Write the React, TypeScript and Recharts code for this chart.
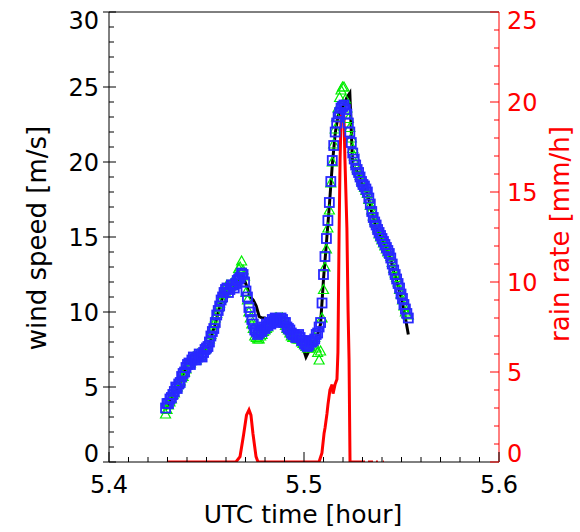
import { ComposedChart, Line, Scatter, XAxis, YAxis, Label } from 'recharts';

// sample times (UTC hour) of the square / triangle records
const markerTimes = [
  5.429, 5.42975, 5.4305, 5.43125, 5.432, 5.43275, 5.4335, 5.43425, 5.435, 5.43575,
  5.4365, 5.43725, 5.438, 5.43875, 5.4395, 5.44025, 5.441, 5.44175, 5.4425, 5.44325,
  5.444, 5.44475, 5.4455, 5.44625, 5.447, 5.44775, 5.4485, 5.44925, 5.45, 5.45075,
  5.4515, 5.45225, 5.453, 5.45375, 5.4545, 5.45525, 5.456, 5.45675, 5.4575, 5.45825,
  5.459, 5.45975, 5.4605, 5.46125, 5.462, 5.46275, 5.4635, 5.46425, 5.465, 5.46575,
  5.4665, 5.46725, 5.468, 5.46875, 5.4695, 5.47025, 5.471, 5.47175, 5.4725, 5.47325,
  5.474, 5.47475, 5.4755, 5.47625, 5.477, 5.47775, 5.4785, 5.47925, 5.48, 5.48075,
  5.4815, 5.48225, 5.483, 5.48375, 5.4845, 5.48525, 5.486, 5.48675, 5.4875, 5.48825,
  5.489, 5.48975, 5.4905, 5.49125, 5.492, 5.49275, 5.4935, 5.49425, 5.495, 5.49575,
  5.4965, 5.49725, 5.498, 5.49875, 5.4995, 5.50025, 5.501, 5.50175, 5.5025, 5.50325,
  5.504, 5.50475, 5.5055, 5.50625, 5.507, 5.50775, 5.5085, 5.50925, 5.51, 5.51075,
  5.5115, 5.51225, 5.513, 5.51375, 5.5145, 5.51525, 5.516, 5.51675, 5.5175, 5.51825,
  5.519, 5.51975, 5.5205, 5.52125, 5.522, 5.52275, 5.5235, 5.52425, 5.525, 5.52575,
  5.5265, 5.52725, 5.528, 5.52875, 5.5295, 5.53025, 5.531, 5.53175, 5.5325, 5.53325,
  5.534, 5.53475, 5.5355, 5.53625, 5.537, 5.53775, 5.5385, 5.53925, 5.54, 5.54075,
  5.5415, 5.54225, 5.543, 5.54375, 5.5445, 5.54525, 5.546, 5.54675, 5.5475, 5.54825,
  5.549, 5.54975, 5.5505, 5.55125, 5.552, 5.55275, 5.5535,
];

// blue squares
const blueSpeed = [
  3.6, 3.9, 3.9, 4.2, 4.3, 4.5, 4.7, 5.0, 4.9, 5.2,
  5.3, 5.7, 5.9, 6.0, 6.3, 6.5, 6.6, 6.5, 6.8, 7.0,
  6.9, 6.8, 7.0, 7.2, 7.1, 7.0, 7.3, 7.5, 7.6, 7.7,
  8.0, 8.4, 8.7, 8.9, 9.3, 9.8, 10.1, 10.4, 10.8, 11.0,
  11.3, 11.5, 11.6, 11.3, 11.5, 11.8, 11.8, 11.6, 11.9, 12.1,
  12.2, 12.3, 12.6, 12.5, 12.0, 11.4, 11.0, 10.3, 10.0, 9.5,
  9.2, 8.8, 8.7, 8.5, 8.6, 8.8, 8.7, 9.0, 8.9, 9.2,
  9.1, 9.3, 9.2, 9.5, 9.4, 9.6, 9.5, 9.3, 9.4, 9.6,
  9.5, 9.3, 9.3, 9.0, 8.9, 8.8, 8.6, 8.5, 8.5, 8.3,
  8.4, 8.5, 8.3, 8.1, 8.1, 7.9, 7.8, 7.7, 7.8, 8.0,
  8.0, 8.1, 8.2, 8.5, 8.6, 9.0, 9.3, 10.6, 12.5, 13.7,
  14.9, 16.1, 17.3, 18.7, 20.1, 21.1, 22.0, 22.6, 23.0, 23.3,
  23.6, 23.7, 23.8, 23.5, 23.2, 22.6, 22.0, 21.3, 20.6, 20.2,
  19.8, 19.5, 19.3, 19.0, 18.7, 18.5, 18.4, 18.2, 18.0, 17.6,
  17.2, 16.7, 16.3, 16.0, 15.8, 15.5, 15.3, 15.1, 14.9, 14.7,
  14.5, 14.3, 14.1, 13.9, 13.6, 13.2, 12.8, 12.5, 12.2, 11.9,
  11.6, 11.2, 10.9, 10.5, 10.2, 9.9, 9.6,
];

// green triangles
const greenSpeed = [
  3.2, 3.5, 3.8, 4.0, 4.2, 4.5, 4.6, 4.9, 5.0, 5.2,
  5.4, 5.6, 5.7, 6.0, 6.2, 6.5, 6.7, 6.6, 6.9, 7.0,
  7.0, 6.8, 7.2, 7.0, 7.1, 7.3, 7.5, 7.5, 7.8, 8.0,
  8.2, 8.5, 8.9, 9.2, 9.6, 9.9, 10.3, 10.6, 10.9, 11.2,
  11.5, 11.3, 11.8, 11.6, 11.7, 11.9, 12.0, 12.1, 12.3, 12.4,
  12.9, 13.0, 13.4, 12.8, 12.4, 11.3, 10.8, 10.0, 9.6, 9.2,
  8.9, 8.4, 8.3, 8.2, 8.2, 8.4, 8.5, 8.7, 8.8, 8.9,
  9.0, 9.2, 9.3, 9.4, 9.5, 9.6, 9.6, 9.5, 9.5, 9.6,
  9.6, 9.3, 9.1, 8.9, 8.8, 8.6, 8.4, 8.3, 8.3, 8.3,
  8.2, 8.2, 8.2, 8.0, 7.9, 7.8, 7.7, 7.6, 7.6, 7.7,
  7.8, 8.0, 8.3, 7.6, 7.3, 6.8, 7.4, 9.6, 11.5, 13.0,
  14.2, 15.6, 16.8, 18.6, 20.0, 21.2, 22.2, 23.0, 23.6, 24.3,
  24.8, 25.0, 25.0, 24.2, 23.6, 22.9, 22.3, 21.6, 20.9, 20.4,
  19.9, 19.6, 19.4, 19.1, 18.8, 18.6, 18.3, 18.1, 17.9, 17.5,
  17.1, 16.8, 16.4, 16.1, 15.9, 15.6, 15.2, 15.0, 14.8, 14.6,
  14.4, 14.2, 14.0, 13.9, 13.7, 13.3, 12.9, 12.6, 12.3, 12.0,
  11.5, 11.2, 10.8, 10.4, 10.0, 9.9, 9.8,
];

// sample times of the black line
const lineTimes = [
  5.429, 5.4305, 5.432, 5.4335, 5.435, 5.4365, 5.438, 5.4395, 5.441, 5.4425,
  5.444, 5.4455, 5.447, 5.4485, 5.45, 5.4515, 5.453, 5.4545, 5.456, 5.4575,
  5.459, 5.4605, 5.462, 5.4635, 5.465, 5.4665, 5.468, 5.4695, 5.471, 5.4725,
  5.474, 5.4755, 5.477, 5.4785, 5.48, 5.4815, 5.483, 5.4845, 5.486, 5.4875,
  5.489, 5.4905, 5.492, 5.4935, 5.495, 5.4965, 5.498, 5.4995, 5.501, 5.5025,
  5.504, 5.5055, 5.507, 5.5085, 5.51, 5.5115, 5.513, 5.5145, 5.516, 5.5175,
  5.519, 5.5205, 5.522, 5.5235, 5.525, 5.5265, 5.528, 5.5295, 5.531, 5.5325,
  5.534, 5.5355, 5.537, 5.5385, 5.54, 5.5415, 5.543, 5.5445, 5.546, 5.5475,
  5.549, 5.5505, 5.552, 5.5535,
];

// black line
const blackSpeed = [
  3.5, 3.8, 4.2, 4.6, 4.9, 5.3, 5.8, 6.3, 6.6, 6.8,
  6.9, 7.0, 7.1, 7.3, 7.5, 7.9, 8.6, 9.2, 10.0, 10.7,
  11.2, 11.5, 11.5, 11.7, 11.8, 12.1, 12.4, 12.1, 11.6, 11.0,
  10.8, 10.4, 9.7, 9.6, 9.6, 9.5, 9.4, 9.5, 9.6, 9.5,
  9.4, 9.2, 8.8, 8.5, 8.4, 8.3, 8.1, 7.6, 7.0, 7.4,
  7.8, 8.1, 8.5, 9.2, 12.2, 14.6, 17.1, 19.8, 21.9, 23.1,
  23.5, 23.8, 24.3, 24.6, 19.6, 19.5, 19.2, 18.6, 18.3, 17.9,
  17.1, 16.2, 15.7, 15.2, 14.8, 14.4, 14.0, 13.5, 12.7, 12.1,
  11.4, 10.6, 9.6, 8.5,
];

// red rain rate, null = gap in the record
const rainTimes = [
  5.4297, 5.4651, 5.4672, 5.469, 5.4705, 5.4718, 5.4728, 5.4738, 5.4754, 5.4764,
  5.5077, 5.5092, 5.5103, 5.5108, 5.5118, 5.5123, 5.5133, 5.5144, 5.5149, 5.5159,
  5.5169, 5.5174, 5.518, 5.5185, 5.519, 5.5195, 5.5205, 5.521, 5.522, 5.5226,
  5.5231, 5.5236, 5.5313, 5.532, 5.5328, 5.5354, 5.5359, 5.5369, 5.5379, 5.5395,
  5.5405, 5.541, 5.5431, 5.5528,
];
const rainRates = [
  0, 0, 0.3, 1.5, 2.6, 2.9, 2.6, 1.6, 0.3, 0,
  0, 0.5, 1.6, 1.9, 2.7, 3.2, 4.0, 4.3, 3.8, 4.3,
  4.6, 6.1, 12.7, 16.8, 19.0, 19.6, 19.2, 16.8, 13.0, 8.4,
  5.7, 0, 0, null, 0, 0, null, 0, 0, null,
  0, 0, null, 0,
];

const xTicks = [
  5.4, 5.41, 5.42, 5.43, 5.44, 5.45, 5.46, 5.47, 5.48, 5.49, 5.5,
  5.51, 5.52, 5.53, 5.54, 5.55, 5.56, 5.57, 5.58, 5.59, 5.6,
];
const windTicks = Array.from({ length: 31 }, (_, i) => i);
const rainTicks = Array.from({ length: 26 }, (_, i) => i);

const blueData = markerTimes.map((t, i) => ({ t, v: blueSpeed[i] }));
const greenData = markerTimes.map((t, i) => ({ t, v: greenSpeed[i] }));
const blackData = lineTimes.map((t, i) => ({ t, v: blackSpeed[i] }));
const rainData = rainTimes.map((t, i) => ({ t, r: rainRates[i] }));

const FONT = "'DejaVu Sans', sans-serif";
const RED = '#ff0000';

const isMajorX = (v: number) => Math.abs(v * 10 - Math.round(v * 10)) < 1e-6;

function BottomTick(props: any) {
  const { x, y, payload } = props;
  const major = isMajorX(payload.value);
  return (
    <g>
      <line x1={x} x2={x} y1={y} y2={y - (major ? 10 : 5)} stroke="#000" />
      {major && (
        <text x={x} y={y + 31} textAnchor="middle" fontSize={24} fontFamily={FONT} fill="#000">
          {payload.value.toFixed(1)}
        </text>
      )}
    </g>
  );
}

function TopTick(props: any) {
  const { x, y, payload } = props;
  const major = isMajorX(payload.value);
  return <line x1={x} x2={x} y1={y} y2={y + (major ? 10 : 5)} stroke="#000" />;
}

function WindTick(props: any) {
  const { x, y, payload } = props;
  const v = payload.value;
  const major = v % 5 === 0;
  let shift = 0;
  if (v === 30) shift = 8;
  if (v === 0) shift = -9;
  return (
    <g>
      <line x1={major ? x - 6 : x} x2={x + (major ? 7 : 5)} y1={y} y2={y} stroke="#000" />
      {major && (
        <text x={x - 10} y={y + shift} dy="0.36em" textAnchor="end" fontSize={24} fontFamily={FONT} fill="#000">
          {v}
        </text>
      )}
    </g>
  );
}

function RainTick(props: any) {
  const { x, y, payload } = props;
  const v = payload.value;
  const major = v % 5 === 0;
  let shift = 0;
  if (v === 25) shift = 8;
  if (v === 0) shift = -9;
  return (
    <g>
      <line x1={x} x2={x - (major ? 9 : 5)} y1={y} y2={y} stroke={RED} />
      {major && (
        <text x={x + 8} y={y + shift} dy="0.36em" textAnchor="start" fontSize={24} fontFamily={FONT} fill={RED}>
          {v}
        </text>
      )}
    </g>
  );
}

const Square = (props: any) => {
  const { cx, cy } = props;
  if (cx == null || cy == null) return <g />;
  return <rect x={cx - 4.5} y={cy - 4.5} width={9} height={9} fill="none" stroke="#2828ff" strokeWidth={1.8} />;
};

const Triangle = (props: any) => {
  const { cx, cy } = props;
  if (cx == null || cy == null) return <g />;
  return (
    <path
      d={`M${cx},${cy - 5}L${cx + 5},${cy + 4}L${cx - 5},${cy + 4}Z`}
      fill="none"
      stroke="#00ee00"
      strokeWidth={1.2}
    />
  );
};

export default function App() {
  return (
    <div style={{ position: 'absolute', left: 0, top: 0, background: '#fff' }}>
      <ComposedChart width={580} height={532} margin={{ top: 8, right: 21, bottom: 30, left: 49 }}>
        <XAxis
          xAxisId="bottom"
          dataKey="t"
          type="number"
          domain={[5.4, 5.6]}
          ticks={xTicks}
          allowDataOverflow
          tickSize={0}
          tickMargin={0}
          tickLine={false}
          tick={<BottomTick />}
          interval={0}
          height={40}
          stroke="#000"
        >
          <Label
            content={() => (
              <text x={303} y={523} textAnchor="middle" fontSize={25} fontFamily={FONT} fill="#000">
                UTC time [hour]
              </text>
            )}
          />
        </XAxis>
        <XAxis
          xAxisId="top"
          orientation="top"
          type="number"
          domain={[5.4, 5.6]}
          ticks={xTicks}
          allowDataOverflow
          tickSize={0}
          tickMargin={0}
          tickLine={false}
          tick={<TopTick />}
          interval={0}
          height={4}
          stroke="#000"
        />
        <YAxis
          yAxisId="wind"
          type="number"
          domain={[0, 30]}
          ticks={windTicks}
          allowDataOverflow
          tickSize={0}
          tickMargin={0}
          tickLine={false}
          tick={<WindTick />}
          interval={0}
          width={60}
          stroke="#000"
        >
          <Label
            content={() => (
              <text
                x={46}
                y={238}
                transform="rotate(-90 46 238)"
                textAnchor="middle"
                fontSize={26}
                fontFamily={FONT}
                fill="#000"
              >
                wind speed [m/s]
              </text>
            )}
          />
        </YAxis>
        <YAxis
          yAxisId="rain"
          orientation="right"
          type="number"
          domain={[0, 25]}
          ticks={rainTicks}
          allowDataOverflow
          tickSize={0}
          tickMargin={0}
          tickLine={false}
          tick={<RainTick />}
          interval={0}
          width={60}
          stroke={RED}
        >
          <Label
            content={() => (
              <text
                x={569}
                y={234}
                transform="rotate(-90 569 234)"
                textAnchor="middle"
                fontSize={26}
                fontFamily={FONT}
                fill={RED}
              >
                rain rate [mm/h]
              </text>
            )}
          />
        </YAxis>

        <Line
          data={blackData}
          dataKey="v"
          xAxisId="bottom"
          yAxisId="wind"
          stroke="#000"
          strokeWidth={3}
          dot={false}
          isAnimationActive={false}
        />
        <Scatter
          data={greenData}
          dataKey="v"
          xAxisId="bottom"
          yAxisId="wind"
          shape={<Triangle />}
          isAnimationActive={false}
        />
        <Scatter
          data={blueData}
          dataKey="v"
          xAxisId="bottom"
          yAxisId="wind"
          shape={<Square />}
          isAnimationActive={false}
        />
        <Line
          data={rainData}
          dataKey="r"
          xAxisId="bottom"
          yAxisId="rain"
          stroke={RED}
          strokeWidth={3}
          dot={false}
          connectNulls={false}
          isAnimationActive={false}
        />
      </ComposedChart>
    </div>
  );
}
